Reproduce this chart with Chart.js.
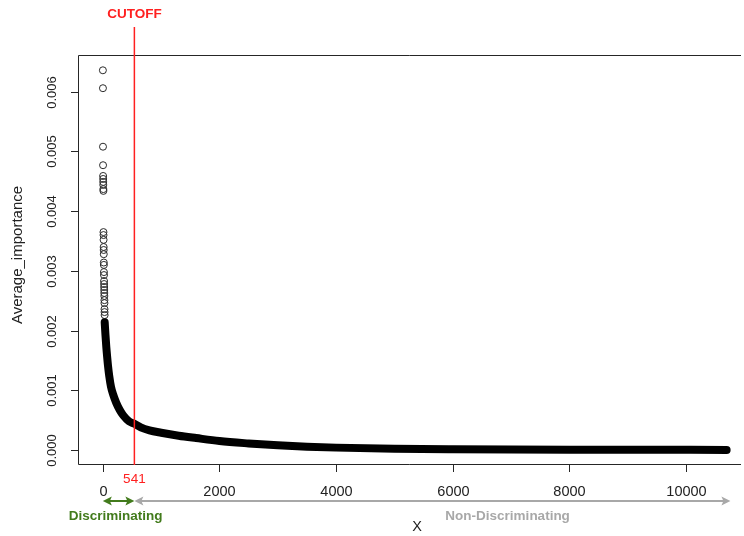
<!DOCTYPE html>
<html>
<head>
<meta charset="utf-8">
<script src="https://cdn.jsdelivr.net/npm/chart.js@4.4.0/dist/chart.umd.min.js"></script>
<style>
  html, body { margin: 0; padding: 0; background: #fff; overflow: hidden; }
  #wrap { width: 744px; height: 536px; }
</style>
</head>
<body>
<div id="wrap"><canvas id="c" width="744" height="536"></canvas></div>
<script>
// Highest-ranked features, drawn as individual open circles
const headRank = [1, 2, 3, 4, 5, 6, 7, 8, 9, 10, 11, 12, 13, 14, 15, 16,
  17, 18, 19, 20, 21, 22, 23, 24, 25, 26, 27, 28, 29, 30, 31];
const headImportance = [0.00636, 0.00606, 0.00508, 0.00477, 0.00459, 0.00454,
  0.00449, 0.00444, 0.00437, 0.00434, 0.00365, 0.00360, 0.00352, 0.00340,
  0.00335, 0.00328, 0.00314, 0.00310, 0.00298, 0.00293, 0.00283, 0.00278,
  0.00273, 0.00268, 0.00263, 0.00258, 0.00251, 0.00246, 0.00236, 0.00231, 0.00226];

// Remaining features: the packed run of circles, read along its length
const bodyRank = [32, 45, 60, 75, 90, 110, 140, 180, 230, 290, 350, 450, 541,
  650, 800, 1000, 1300, 1600, 2000, 2500, 3000, 3500, 4000, 5000, 6000, 7000,
  8000, 9000, 10000, 10695];
const bodyImportance = [0.00214, 0.00193, 0.00172, 0.00155, 0.00140, 0.00124,
  0.00106, 0.00092, 0.00079, 0.00067, 0.00058, 0.00048, 0.00044, 0.00038,
  0.00033, 0.00029, 0.00024, 0.00020, 0.00015, 0.00011, 0.000078, 0.000055,
  0.000040, 0.000022, 0.000013, 0.000008, 0.000005, 0.000004, 0.000003, 0.000002];

const xTicks = [0, 2000, 4000, 6000, 8000, 10000];
const yTicks = [0.000, 0.001, 0.002, 0.003, 0.004, 0.005, 0.006];
const cutoff = 541;
const lastRank = 10760;

const FONT = '"Liberation Sans", Arial, Helvetica, sans-serif';

// Axes, box, cutoff marker and the group arrows (R base-graphics look)
const decorations = {
  id: 'decorations',
  afterDatasetsDraw(chart) {
    const ctx = chart.ctx;
    const xs = chart.scales.x, ys = chart.scales.y;
    const a = chart.chartArea;
    ctx.save();

    // plot box (right side runs past the canvas edge)
    ctx.strokeStyle = '#262626';
    ctx.lineWidth = 1;
    ctx.beginPath();
    ctx.moveTo(a.right + 2, 55.5);
    ctx.lineTo(78.5, 55.5);
    ctx.lineTo(78.5, 464.5);
    ctx.lineTo(a.right + 2, 464.5);
    ctx.stroke();

    // y axis ticks and rotated labels
    ctx.fillStyle = '#222';
    ctx.textAlign = 'center';
    ctx.textBaseline = 'middle';
    yTicks.forEach(v => {
      const y = Math.round(ys.getPixelForValue(v)) + 0.5;
      ctx.beginPath();
      ctx.moveTo(71, y);
      ctx.lineTo(78.5, y);
      ctx.stroke();
      ctx.save();
      ctx.font = '13px ' + FONT;
      ctx.translate(52.5, y);
      ctx.rotate(-Math.PI / 2);
      ctx.fillText(v.toFixed(3), 0, 0);
      ctx.restore();
    });

    // x axis ticks and labels
    ctx.font = '14.5px ' + FONT;
    xTicks.forEach(v => {
      const x = Math.round(xs.getPixelForValue(v)) + 0.5;
      ctx.beginPath();
      ctx.moveTo(x, 464.5);
      ctx.lineTo(x, 472);
      ctx.stroke();
      ctx.fillText(String(v), x, 492);
    });

    // axis titles
    ctx.save();
    ctx.font = '15px ' + FONT;
    ctx.translate(18, 255);
    ctx.rotate(-Math.PI / 2);
    ctx.fillText('Average_importance', 0, 0);
    ctx.restore();
    ctx.font = '14.5px ' + FONT;
    ctx.fillText('X', 417, 527);

    // cutoff line with its labels
    const cx = xs.getPixelForValue(cutoff);
    ctx.strokeStyle = '#ff2020';
    ctx.lineWidth = 1.5;
    ctx.beginPath();
    ctx.moveTo(cx, 27);
    ctx.lineTo(cx, 465);
    ctx.stroke();
    ctx.fillStyle = '#ff2020';
    ctx.font = 'bold 13.5px ' + FONT;
    ctx.fillText('CUTOFF', cx, 14);
    ctx.font = '13.5px ' + FONT;
    ctx.fillText(String(cutoff), cx, 479);

    // double-headed arrows marking the two groups
    function arrow(x1, x2, y, color) {
      ctx.strokeStyle = color;
      ctx.fillStyle = color;
      ctx.lineWidth = 2;
      ctx.beginPath();
      ctx.moveTo(x1 + 4, y);
      ctx.lineTo(x2 - 4, y);
      ctx.stroke();
      [[x1, 1], [x2, -1]].forEach(([tip, dir]) => {
        ctx.beginPath();
        ctx.moveTo(tip, y);
        ctx.lineTo(tip + dir * 9, y - 4.5);
        ctx.lineTo(tip + dir * 7, y);
        ctx.lineTo(tip + dir * 9, y + 4.5);
        ctx.closePath();
        ctx.fill();
      });
    }
    const ay = 501;
    const green = '#427b1c', grey = '#a8a8a8';
    arrow(xs.getPixelForValue(0), xs.getPixelForValue(cutoff), ay, green);
    arrow(xs.getPixelForValue(cutoff), xs.getPixelForValue(lastRank), ay, grey);

    ctx.font = 'bold 13.5px ' + FONT;
    ctx.fillStyle = green;
    ctx.fillText('Discriminating', xs.getPixelForValue(218), 516);
    ctx.fillStyle = grey;
    ctx.fillText('Non-Discriminating', xs.getPixelForValue(6940), 516);

    ctx.restore();
  }
};

new Chart(document.getElementById('c'), {
  type: 'scatter',
  data: {
    datasets: [
      {
        label: 'body',
        data: bodyRank.map((r, i) => ({ x: r, y: bodyImportance[i] })),
        showLine: true,
        borderColor: '#000',
        borderWidth: 8,
        borderCapStyle: 'round',
        borderJoinStyle: 'round',
        cubicInterpolationMode: 'monotone',
        pointRadius: 0,
        pointHoverRadius: 0
      },
      {
        label: 'head',
        data: headRank.map((r, i) => ({ x: r, y: headImportance[i] })),
        showLine: false,
        pointStyle: 'circle',
        pointRadius: 3.5,
        borderWidth: 1,
        borderColor: '#2a2a2a',
        backgroundColor: 'rgba(0,0,0,0)'
      }
    ]
  },
  options: {
    responsive: false,
    animation: false,
    devicePixelRatio: 1,
    layout: { padding: { left: 78, top: 55, right: 0, bottom: 71 } },
    plugins: { legend: { display: false }, tooltip: { enabled: false } },
    scales: {
      x: { type: 'linear', display: false, min: -425.6, max: 10907 },
      y: { type: 'linear', display: false, min: -0.000251, max: 0.006616 }
    }
  },
  plugins: [decorations]
});
</script>
</body>
</html>
